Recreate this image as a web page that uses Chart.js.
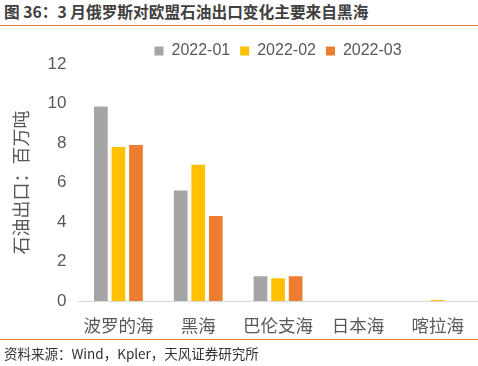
<!DOCTYPE html>
<html>
<head>
<meta charset="utf-8">
<script src="https://cdn.jsdelivr.net/npm/chart.js@4.4.0/dist/chart.umd.min.js"></script>
<style>
  body { margin: 0; width: 478px; height: 366px; background: #fff; position: relative; overflow: hidden;
         font-family: "Noto Sans CJK SC", "Liberation Sans", sans-serif; }
  .title { position: absolute; left: 4px; top: 0px; font-size: 15.7px; font-weight: bold; color: #404040; }
  .rule { position: absolute; left: 0; width: 478px; height: 1px; background: #E5833A; }
  .source { position: absolute; left: 4px; top: 343px; font-size: 13.5px; color: #333; }
  .chart-box { position: absolute; left: 0; top: 28px; width: 478px; height: 322px; }
</style>
</head>
<body>
<div class="title">图 36：3 月俄罗斯对欧盟石油出口变化主要来自黑海</div>
<div class="rule" style="top:25px"></div>
<div class="chart-box"><canvas id="c"></canvas></div>
<div class="rule" style="top:339px"></div>
<div class="source">资料来源：Wind，Kpler，天风证券研究所</div>
<script>
const categories = ["波罗的海", "黑海", "巴伦支海", "日本海", "喀拉海"];
const seriesNames = ["2022-01", "2022-02", "2022-03"];
const jan = [9.85, 5.6, 1.25, 0, 0];
const feb = [7.8, 6.9, 1.15, 0, 0.05];
const mar = [7.9, 4.3, 1.25, 0, 0];
const yTicks = [0, 2, 4, 6, 8, 10, 12];
const colors = ["#A5A5A5", "#FFC000", "#ED7D31"];

// nudge the legend closer to the plot, like the original
const legendNudge = {
  id: "legendNudge",
  afterLayout(chart) {
    chart.legend.top += 5;
    chart.legend.bottom += 5;
  },
};

const ctx = document.getElementById("c").getContext("2d");
new Chart(ctx, {
  type: "bar",
  data: {
    labels: categories,
    datasets: [jan, feb, mar].map((d, i) => ({
      label: seriesNames[i],
      data: d,
      backgroundColor: colors[i],
      barPercentage: 0.78,
      categoryPercentage: 0.66,
    })),
  },
  options: {
    responsive: true,
    maintainAspectRatio: false,
    animation: false,
    layout: { padding: { left: 6, right: 0, top: 0, bottom: 0 } },
    plugins: {
      legend: {
        display: true,
        position: "top",
        fullSize: false,
        labels: {
          boxWidth: 9,
          boxHeight: 9,
          padding: 10,
          color: "#595959",
          font: { size: 16, family: "Liberation Sans" },
        },
      },
      tooltip: { enabled: false },
    },
    scales: {
      x: {
        grid: { display: false, drawTicks: false },
        border: { color: "#D9D9D9", width: 1 },
        ticks: { color: "#595959", padding: 14, font: { size: 17.5, family: "Noto Sans CJK SC" } },
      },
      y: {
        min: 0,
        max: 12,
        afterBuildTicks: axis => { axis.ticks = yTicks.map(v => ({ value: v })); },
        grid: { display: false, drawTicks: false },
        border: { display: false },
        ticks: { color: "#595959", padding: 12, font: { size: 17, family: "Liberation Sans" } },
        title: {
          display: true,
          text: "石油出口：百万吨",
          color: "#595959",
          padding: { bottom: 4 },
          font: { size: 18, family: "Noto Sans CJK SC" },
        },
      },
    },
  },
  plugins: [legendNudge],
});
</script>
</body>
</html>
